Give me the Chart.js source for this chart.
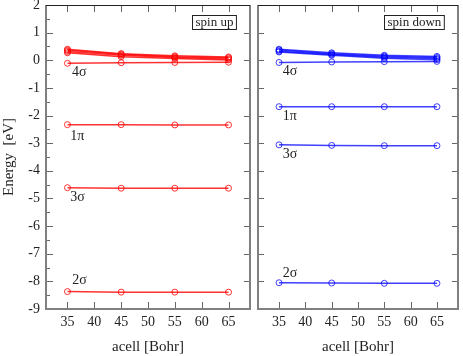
<!DOCTYPE html>
<html>
<head>
<meta charset="utf-8">
<script src="https://cdn.jsdelivr.net/npm/chart.js@4.4.0/dist/chart.umd.min.js"></script>
<style>
  html, body { margin: 0; padding: 0; background: #fff; }
  #wrap { position: relative; width: 463px; height: 356px; }
  canvas { position: absolute; top: 0; }
</style>
</head>
<body>
<div id="wrap">
  <canvas id="up" width="255" height="356" style="left:0"></canvas>
  <canvas id="down" width="210" height="356" style="left:253px"></canvas>
</div>
<script>
const acell = [35, 45, 55, 65];
const xTicks = [35, 40, 45, 50, 55, 60, 65];
const yTicks = [2, 1, 0, -1, -2, -3, -4, -5, -6, -7, -8, -9];

// spin up (red)
const upEmpty = [
  [0.40, 0.24, 0.16, 0.12],
  [0.36, 0.22, 0.13, 0.09],
  [0.32, 0.18, 0.10, 0.05],
  [0.27, 0.13, 0.06, 0.01]
];
const up4s = [-0.11, -0.09, -0.08, -0.07];
const up1p = [-2.33, -2.33, -2.34, -2.34];
const up3s = [-4.61, -4.63, -4.63, -4.63];
const up2s = [-8.37, -8.39, -8.39, -8.39];

// spin down (blue)
const downEmpty = [
  [0.40, 0.27, 0.18, 0.14],
  [0.37, 0.24, 0.15, 0.10],
  [0.33, 0.21, 0.11, 0.06],
  [0.30, 0.18, 0.07, 0.02]
];
const down4s = [-0.08, -0.06, -0.05, -0.04];
const down1p = [-1.68, -1.68, -1.68, -1.68];
const down3s = [-3.06, -3.08, -3.09, -3.09];
const down2s = [-8.05, -8.06, -8.07, -8.07];

const orbitalNames = ['4σ', '1π', '3σ', '2σ'];
// where the orbital names sit, in data units [acell, eV]
const upNameAt = [[35.85, -0.44], [35.5, -2.74], [35.5, -4.96], [35.9, -7.98]];
const downNameAt = [[35.7, -0.41], [35.7, -2.02], [35.7, -3.39], [35.7, -7.72]];

const serif = 'Liberation Serif';
const ink = '#222';
const frameGray = '#808080';

function toSets(rows, color) {
  return rows.map(r => ({
    data: acell.map((x, i) => ({ x: x, y: r[i] })),
    borderColor: color,
    borderWidth: 1.5,
    pointBorderColor: color,
    pointBackgroundColor: 'rgba(0,0,0,0)',
    pointRadius: 3,
    pointBorderWidth: 1,
    tension: 0
  }));
}

// frame, inward ticks, orbital names and the spin box
function decorations(leftMinor, leftTicksOut, names, nameAt, boxText) {
  return {
    id: 'decorations',
    afterDraw(chart) {
      const { ctx, chartArea: a, scales: { x, y } } = chart;
      ctx.save();

      ctx.strokeStyle = '#666';
      ctx.lineWidth = 1;
      ctx.beginPath();
      xTicks.forEach(v => {
        const px = Math.round(x.getPixelForValue(v)) + 0.5;
        ctx.moveTo(px, a.bottom); ctx.lineTo(px, a.bottom - 7);
        ctx.moveTo(px, a.top); ctx.lineTo(px, a.top + 7);
      });
      yTicks.forEach(v => {
        const py = Math.round(y.getPixelForValue(v)) + 0.5;
        ctx.moveTo(a.left, py); ctx.lineTo(a.left + (leftTicksOut ? 7 : 6), py);
        ctx.moveTo(a.right, py); ctx.lineTo(a.right - 6, py);
        if (leftMinor && v > -9) {
          const pm = Math.round(y.getPixelForValue(v - 0.5)) + 0.5;
          ctx.moveTo(a.left, pm); ctx.lineTo(a.left + 4, pm);
        }
      });
      ctx.stroke();

      ctx.strokeStyle = frameGray;
      ctx.lineWidth = 2;
      ctx.beginPath();
      ctx.moveTo(a.left, a.top); ctx.lineTo(a.left, a.bottom);
      ctx.lineTo(a.right, a.bottom); ctx.lineTo(a.right, a.top);
      ctx.stroke();
      ctx.strokeStyle = ink;
      ctx.lineWidth = 1;
      ctx.beginPath();
      ctx.moveTo(a.left, a.top + 0.5); ctx.lineTo(a.right, a.top + 0.5);
      ctx.stroke();

      ctx.fillStyle = ink;
      ctx.font = '14px "' + serif + '"';
      ctx.textAlign = 'left';
      ctx.textBaseline = 'middle';
      names.forEach((t, i) => {
        ctx.fillText(t, x.getPixelForValue(nameAt[i][0]), y.getPixelForValue(nameAt[i][1]));
      });

      ctx.font = '13px "' + serif + '"';
      const w = ctx.measureText(boxText).width + 6;
      const bx = Math.round(a.right - 14 - w) + 0.5;
      const by = Math.round(a.top + 10) + 0.5;
      ctx.fillStyle = '#fff';
      ctx.fillRect(bx, by, w, 14);
      ctx.strokeStyle = ink;
      ctx.lineWidth = 1;
      ctx.strokeRect(bx, by, w, 14);
      ctx.fillStyle = ink;
      ctx.fillText(boxText, bx + 3, by + 7.5);

      ctx.restore();
    }
  };
}

function makeChart(id, datasets, showY, pad, deco) {
  return new Chart(document.getElementById(id), {
    type: 'line',
    data: { datasets: datasets },
    options: {
      responsive: false,
      animation: false,
      layout: { padding: pad },
      plugins: { legend: { display: false }, tooltip: { enabled: false } },
      scales: {
        x: {
          type: 'linear',
          min: 31,
          max: 69,
          afterBuildTicks: s => { s.ticks = xTicks.map(v => ({ value: v })); },
          afterFit: s => { s.height = 47; s.paddingLeft = 0; s.paddingRight = 0; },
          grid: { display: false, drawTicks: false },
          border: { display: false },
          ticks: { padding: 5, color: ink, font: { family: serif, size: 14 } },
          title: { display: true, text: 'acell [Bohr]', padding: 0, color: ink, font: { family: serif, size: 15 } }
        },
        y: {
          display: showY,
          min: -9,
          max: 2,
          afterBuildTicks: s => { s.ticks = yTicks.map(v => ({ value: v })); },
          afterFit: s => { s.width = showY ? 46 : 0; s.paddingTop = 0; s.paddingBottom = 0; },
          grid: { display: false, drawTicks: false },
          border: { display: false },
          ticks: { padding: 6, color: ink, font: { family: serif, size: 14 } },
          title: { display: true, text: 'Energy  [eV]', padding: 0, color: ink, font: { family: serif, size: 15 } }
        }
      }
    },
    plugins: [deco]
  });
}

const red = 'rgba(255,0,0,0.8)';
const blue = 'rgba(0,0,255,0.75)';

makeChart('up',
  toSets(upEmpty.concat([up4s, up1p, up3s, up2s]), red),
  true, { top: 5, right: 1, left: 0, bottom: 0 },
  decorations(true, true, orbitalNames, upNameAt, 'spin up'));

makeChart('down',
  toSets(downEmpty.concat([down4s, down1p, down3s, down2s]), blue),
  false, { top: 5, right: 2, left: 1, bottom: 0 },
  decorations(false, false, orbitalNames, downNameAt, 'spin down'));
</script>
</body>
</html>
